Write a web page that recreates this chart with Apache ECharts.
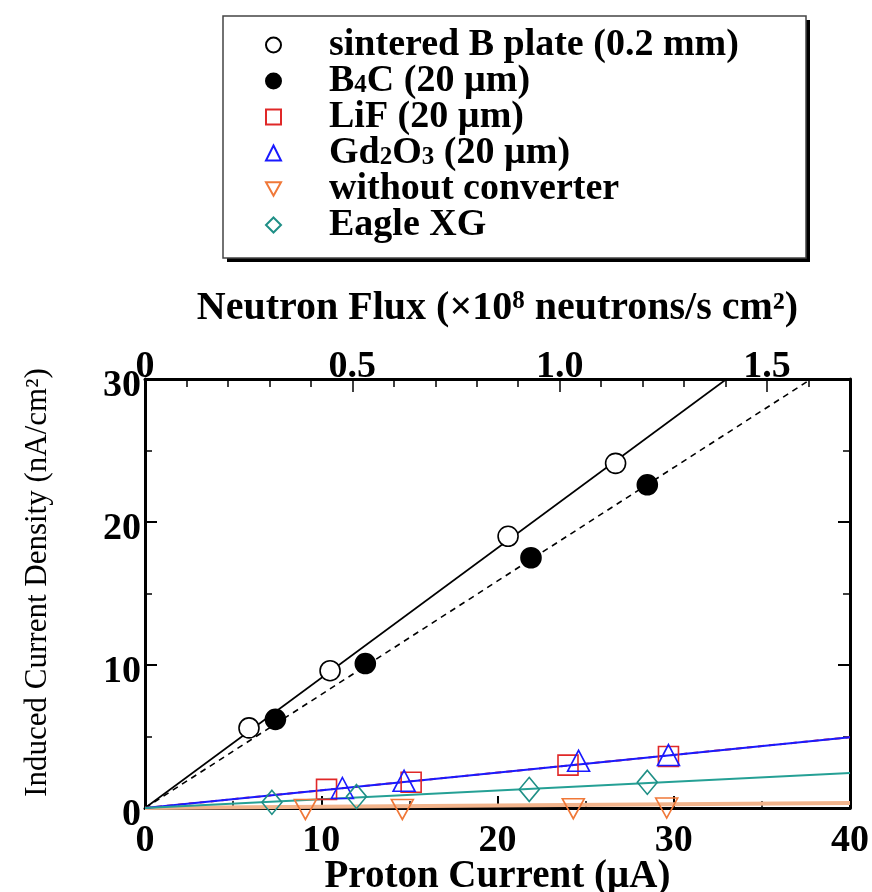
<!DOCTYPE html>
<html>
<head>
<meta charset="utf-8">
<script src="https://cdn.jsdelivr.net/npm/echarts@6/dist/echarts.min.js"></script>
<style>
  html, body { margin: 0; padding: 0; background: #fff; }
  #chart { width: 872px; height: 892px; }
</style>
</head>
<body>
<div id="chart"></div>
<script>
// measured points (proton current in uA, current density in nA/cm2)
var sinteredX = [5.9, 10.5, 20.6, 26.7]
var sinteredY = [5.6, 9.6, 19.0, 24.1]
var b4cX = [7.4, 12.5, 21.9, 28.5]
var b4cY = [6.2, 10.1, 17.5, 22.6]
var lifX = [10.3, 15.1, 24.0, 29.7]
var lifY = [1.3, 1.8, 3.0, 3.6]
var gdX = [11.2, 14.7, 24.6, 29.7]
var gdY = [1.4, 1.9, 3.3, 3.7]
var noneX = [9.1, 14.6, 24.3, 29.6]
var noneY = [-0.1, -0.1, -0.05, 0.0]
var eagleX = [7.2, 12.0, 21.8, 28.5]
var eagleY = [0.4, 0.8, 1.3, 1.8]

// fitted lines, start / end points
var fitSinteredX = [0, 33.0]
var fitSinteredY = [0, 30]
var fitB4cX = [0, 37.8]
var fitB4cY = [0, 30]
var fitLifX = [0, 40]
var fitLifY = [0, 4.95]
var fitGdX = [0, 40]
var fitGdY = [0, 4.95]
var fitEagleX = [0, 40]
var fitEagleY = [0, 2.45]
var fitNoneX = [0, 40]
var fitNoneY = [0, 0.35]

// axis ranges / ticks
var xMax = 40, xStep = 10
var yMax = 30, yStep = 10
var fluxMax = 1.7, fluxStep = 0.5, fluxMinor = 0.1

var names = ['sintered B plate (0.2 mm)', 'B4C (20 \u00b5m)', 'LiF (20 \u00b5m)',
    'Gd2O3 (20 \u00b5m)', 'without converter', 'Eagle XG']
var legendRich = {
    'B4C (20 \u00b5m)': 'B{sub|4}C (20 \u00b5m)',
    'Gd2O3 (20 \u00b5m)': 'Gd{sub|2}O{sub|3} (20 \u00b5m)'
}

var FONT = 'Liberation Serif'
var DOWN_TRI = 'path://M0,0L20,0L10,18Z'

function pairs(xs, ys) {
    return xs.map(function (x, i) { return [x, ys[i]] })
}

function pointSeries(name, xs, ys, symbol, size, color, fill) {
    return {
        name: name,
        type: 'scatter',
        data: pairs(xs, ys),
        symbol: symbol,
        symbolSize: size,
        clip: false,
        z: 5,
        itemStyle: {
            color: fill,
            borderColor: color,
            borderWidth: 1.6,
            opacity: 1
        }
    }
}

function fitSeries(xs, ys, color, type, width) {
    return {
        type: 'line',
        data: pairs(xs, ys),
        symbol: 'none',
        silent: true,
        z: 2,
        lineStyle: { color: color, width: width || 1.6, type: type }
    }
}

var tickText = { fontFamily: FONT, fontWeight: 'bold', fontSize: 38, color: '#000' }

var chart = echarts.init(document.getElementById('chart'))
var option = {
    animation: false,
    backgroundColor: '#fff',
    graphic: [{
        type: 'rect',
        z: 1,
        shape: { x: 227, y: 20, width: 583, height: 242 },
        style: { fill: '#000' }
    }, {
        type: 'rect',
        z: 2,
        shape: { x: 223, y: 16, width: 583, height: 242 },
        style: { fill: '#fff', stroke: '#444', lineWidth: 1.5 }
    }],
    legend: {
        orient: 'vertical',
        left: 223,
        top: 16,
        padding: [10, 0, 0, 42],
        z: 10,
        itemWidth: 15,
        itemHeight: 15,
        itemGap: -2,
        selectedMode: false,
        data: names,
        formatter: function (n) { return legendRich[n] || n },
        textStyle: {
            fontFamily: FONT, fontWeight: 'bold', fontSize: 38, color: '#000', lineHeight: 34,
            padding: [0, 0, 0, 43],
            rich: {
                sub: { fontFamily: FONT, fontWeight: 'bold', fontSize: 25, lineHeight: 20, verticalAlign: 'bottom', color: '#000' }
            }
        }
    },
    grid: {
        left: 145, right: 22, top: 379, bottom: 84,
        outerBoundsMode: 'none'
    },
    xAxis: [{
        type: 'value',
        position: 'bottom',
        min: 0, max: xMax, interval: xStep,
        axisLine: { show: true, onZero: false, lineStyle: { color: '#000', width: 3 } },
        axisTick: { show: true, inside: true, length: 12, lineStyle: { color: '#000', width: 2 } },
        minorTick: { show: true, splitNumber: 2, length: 7, lineStyle: { color: '#000', width: 1.5 } },
        axisLabel: Object.assign({ margin: 14 }, tickText),
        splitLine: { show: false },
        name: 'Proton Current (\u00b5A)',
        nameLocation: 'middle',
        nameGap: 49,
        nameMoveOverlap: false,
        nameTextStyle: { fontFamily: FONT, fontWeight: 'bold', fontSize: 39, color: '#000' }
    }, {
        type: 'value',
        position: 'top',
        min: 0, max: fluxMax, interval: fluxMinor,
        axisLine: { show: true, onZero: false, lineStyle: { color: '#000', width: 3 } },
        axisTick: { show: true, inside: true, length: 8, lineStyle: { color: '#000', width: 1.5 } },
        axisLabel: { show: false },
        splitLine: { show: false }
    }, {
        type: 'value',
        position: 'top',
        min: 0, max: fluxMax, interval: fluxStep,
        axisLine: { show: false, onZero: false },
        axisTick: { show: true, inside: true, length: 13, lineStyle: { color: '#000', width: 1.5 } },
        axisLabel: Object.assign({
            margin: -7,
            showMaxLabel: false,
            formatter: function (v) { return v === 0 ? '0' : v.toFixed(1) }
        }, tickText),
        splitLine: { show: false },
        name: 'Neutron Flux (\u00d710{sup|8} neutrons/s cm\u00b2)',
        nameLocation: 'middle',
        nameGap: 50,
        nameMoveOverlap: false,
        nameTextStyle: {
            fontFamily: FONT, fontWeight: 'bold', fontSize: 40, color: '#000',
            rich: { sup: { fontFamily: FONT, fontWeight: 'bold', fontSize: 25, verticalAlign: 'top', lineHeight: 25 } }
        }
    }],
    yAxis: [{
        type: 'value',
        position: 'left',
        min: 0, max: yMax, interval: yStep,
        axisLine: { show: true, onZero: false, lineStyle: { color: '#000', width: 3 } },
        axisTick: { show: true, inside: true, length: 12, lineStyle: { color: '#000', width: 2 } },
        minorTick: { show: true, splitNumber: 2, length: 7, lineStyle: { color: '#000', width: 1.5 } },
        axisLabel: Object.assign({ margin: 4, verticalAlign: 'top', lineHeight: 14 }, tickText),
        splitLine: { show: false },
        name: 'Induced Current Density (nA/cm\u00b2)',
        nameLocation: 'middle',
        nameGap: 92,
        nameMoveOverlap: false,
        nameTextStyle: { fontFamily: FONT, fontSize: 31, color: '#000', padding: [0, 0, 0, 22] }
    }, {
        type: 'value',
        position: 'right',
        min: 0, max: yMax, interval: yStep,
        axisLine: { show: true, onZero: false, lineStyle: { color: '#000', width: 3 } },
        axisTick: { show: true, inside: true, length: 12, lineStyle: { color: '#000', width: 2 } },
        minorTick: { show: true, splitNumber: 2, length: 7, lineStyle: { color: '#000', width: 1.5 } },
        axisLabel: { show: false },
        splitLine: { show: false }
    }],
    series: [
        fitSeries(fitNoneX, fitNoneY, '#f2b48c', 'solid', 4),
        fitSeries(fitSinteredX, fitSinteredY, '#000', 'solid', 1.6),
        fitSeries(fitB4cX, fitB4cY, '#000', [6, 5], 1.6),
        fitSeries(fitLifX, fitLifY, '#e03030', [6, 5], 2),
        fitSeries(fitGdX, fitGdY, '#1a1aff', 'solid', 2),
        fitSeries(fitEagleX, fitEagleY, '#25a095', 'solid', 2),
        pointSeries(names[0], sinteredX, sinteredY, 'circle', 20, '#000', '#fff'),
        pointSeries(names[1], b4cX, b4cY, 'circle', 20, '#000', '#000'),
        pointSeries(names[2], lifX, lifY, 'rect', 20, '#e02828', 'rgba(255,255,255,0)'),
        pointSeries(names[3], gdX, gdY, 'triangle', [22, 21], '#1a1aff', 'rgba(255,255,255,0)'),
        pointSeries(names[4], noneX, noneY, DOWN_TRI, [22, 20], '#f07838', 'rgba(255,255,255,0)'),
        pointSeries(names[5], eagleX, eagleY, 'diamond', [20, 24], '#1f8f86', 'rgba(255,255,255,0)')
    ]
}
chart.setOption(option)
</script>
</body>
</html>
